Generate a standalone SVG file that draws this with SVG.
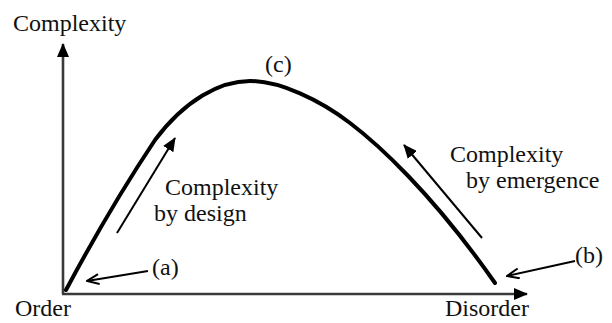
<svg xmlns="http://www.w3.org/2000/svg" width="612" height="323" viewBox="0 0 612 323">
<style>
text{font-family:"Liberation Serif","DejaVu Serif",serif;font-size:24px;fill:#111}
.axis{stroke:#3a3a3a;stroke-width:2.6;fill:none}
.curve{stroke:#000;stroke-width:4;fill:none;stroke-linecap:round}
.thin{stroke:#000;stroke-width:2;fill:none}
</style>
<defs>
<marker id="big" viewBox="0 0 14 12" refX="13" refY="6" markerWidth="14" markerHeight="12" orient="auto" markerUnits="userSpaceOnUse">
<path d="M0,0 L14,6 L0,12 z" fill="#000"/>
</marker>
<marker id="open" viewBox="0 0 14 12" refX="13" refY="6" markerWidth="14" markerHeight="12" orient="auto" markerUnits="userSpaceOnUse">
<path d="M1,1 L13,6 L1,11" fill="none" stroke="#000" stroke-width="2"/>
</marker>
</defs>
<g id="axes">
<line class="axis" x1="63" y1="294" x2="63" y2="44" marker-end="url(#big)"/>
<line class="axis" x1="62" y1="294" x2="527" y2="294" marker-end="url(#big)"/>
</g>
<g id="curve">
<path class="curve" d="M66,290 C90,245 125,185 155,140 C185,100 220,81 250,81 C280,81 320,100 350,123 C375,142 430,190 495,283"/>
</g>
<g id="connectors">
<line class="thin" x1="117" y1="233" x2="175" y2="138" marker-end="url(#big)"/>
<line class="thin" x1="482" y1="238" x2="404" y2="145" marker-end="url(#big)"/>
<line class="thin" x1="148" y1="271" x2="87" y2="281" marker-end="url(#open)"/>
<line class="thin" x1="575" y1="261" x2="507" y2="276" marker-end="url(#open)"/>
</g>
<g id="labels">
<text x="13" y="31">Complexity</text>
<text x="15" y="316">Order</text>
<text x="445" y="316">Disorder</text>
<text x="265" y="72">(c)</text>
<text x="152" y="275">(a)</text>
<text x="575" y="263">(b)</text>
</g>
<g id="design">
<text x="165" y="195">Complexity</text>
<text x="154" y="221">by design</text>
</g>
<g id="emergence">
<text x="450" y="162">Complexity</text>
<text x="466" y="188">by emergence</text>
</g>
</svg>
